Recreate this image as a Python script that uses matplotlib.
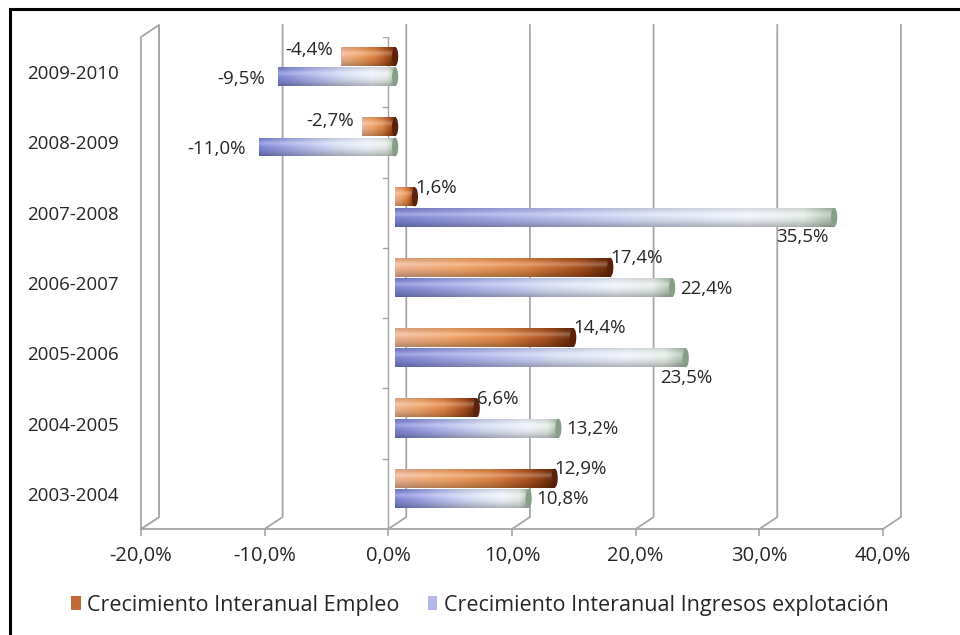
import numpy as np
import matplotlib
matplotlib.use("Agg")
import matplotlib.pyplot as plt
from matplotlib.colors import LinearSegmentedColormap
from matplotlib.patches import Rectangle, Polygon, Ellipse, Patch

# --- DATA (bottom to top) ---
categories = ["2003-2004", "2004-2005", "2005-2006", "2006-2007",
              "2007-2008", "2008-2009", "2009-2010"]
empleo = [12.9, 6.6, 14.4, 17.4, 1.6, -2.7, -4.4]
ingresos = [10.8, 13.2, 23.5, 22.4, 35.5, -11.0, -9.5]
x_ticks = [-20, -10, 0, 10, 20, 30, 40]
series_names = ["Crecimiento Interanual Empleo",
                "Crecimiento Interanual Ingresos explotación"]

# where Excel put the blue labels
ing_label_mode = ["right", "right", "below_c", "right", "below_r", "left", "left"]

# --- STYLE ---
plt.rcParams["font.family"] = ["Open Sans", "DejaVu Sans"]
TXT = "#262626"
GRID = "#a6a6a6"
DX, DY = 1.45, 0.17      # depth offset of the back wall (data units)
BX, BY = 0.55, 0.08      # depth offset of the bar plane
BAR_H = 0.27

orange_cols = [(0.0, "#f0b494"), (0.3, "#f2a468"), (0.6, "#de8442"),
               (0.85, "#aa4e1c"), (1.0, "#66280a")]
blue_cols = [(0.0, "#7c84d4"), (0.25, "#a6aee8"), (0.55, "#d4dcf5"),
             (0.8, "#eff3fc"), (0.93, "#e4ece6"), (1.0, "#a8bcaa")]


def cylinder(colors, n=256, m=48):
    cm = LinearSegmentedColormap.from_list("c", colors)
    row = cm(np.linspace(0, 1, n))[:, :3]
    v = np.linspace(0, 1, m)[:, None, None]
    shade = 0.78 + 0.22 * np.cos((v - 0.62) * np.pi * 0.9)
    glow = 0.25 * np.exp(-((v - 0.68) / 0.13) ** 2)
    img = row[None, :, :] * shade + (1 - row[None, :, :]) * glow
    return np.clip(img, 0, 1)


fig = plt.figure(figsize=(9.6, 6.35), dpi=100)
ax = fig.add_axes([141 / 960, 106 / 635, 742 / 960, 492 / 635])
ax.set_facecolor("none")

y0, y1 = -0.5, len(categories) - 0.5

# back wall gridlines + floor slants
for t in x_ticks:
    ax.plot([t, t + DX, t + DX], [y0, y0 + DY, y1 + DY],
            color=GRID, lw=1.3, clip_on=False, zorder=1)
# left side wall
xl = x_ticks[0]
ax.add_patch(Polygon([(xl, y0), (xl, y1), (xl + DX, y1 + DY), (xl + DX, y0 + DY)],
                     closed=True, facecolor="white", edgecolor=GRID, lw=1.3,
                     clip_on=False, zorder=1.5))

# value axis at zero with category ticks
ax.plot([0, 0], [y0, y1], color=GRID, lw=1.0, zorder=2)
for b in np.arange(y0, y1 + 0.01, 1.0):
    ax.plot([-0.45, 0], [b, b], color=GRID, lw=1.0, zorder=2)


def draw_bars(values, off, colors, cap):
    img = cylinder(colors)
    ends = []
    for i, v in enumerate(values):
        left = min(0, v) + BX
        right = max(0, v) + BX
        yc = i + BY + off
        rect = Rectangle((left, yc - BAR_H / 2), right - left, BAR_H,
                         facecolor="none", edgecolor="none")
        ax.add_patch(rect)
        im = ax.imshow(img, extent=(left, right, yc - BAR_H / 2, yc + BAR_H / 2),
                       origin="lower", aspect="auto", interpolation="bilinear",
                       zorder=3)
        im.set_clip_path(rect)
        ax.add_patch(Ellipse((right, yc), 0.5, BAR_H, facecolor=cap,
                             edgecolor="none", zorder=3.1))
        ends.append((left, right, yc))
    return ends


emp_ends = draw_bars(empleo, 0.145, orange_cols, "#5a2208")
ing_ends = draw_bars(ingresos, -0.145, blue_cols, "#86a088")


def fmt(v):
    return f"{v:.1f}%".replace(".", ",")


lab_kw = dict(textcoords="offset pixels", fontsize=13.5, color=TXT, zorder=5)
for v, (l, r, yc) in zip(empleo, emp_ends):
    if v >= 0:
        ax.annotate(fmt(v), (r, yc), xytext=(0, 9), ha="left", va="center", **lab_kw)
    else:
        ax.annotate(fmt(v), (l, yc), xytext=(-8, 6), ha="right", va="center", **lab_kw)

for v, (l, r, yc), mode in zip(ingresos, ing_ends, ing_label_mode):
    if mode == "right":
        ax.annotate(fmt(v), (r, yc), xytext=(8, -1), ha="left", va="center", **lab_kw)
    elif mode == "left":
        ax.annotate(fmt(v), (l, yc), xytext=(-13, -2), ha="right", va="center", **lab_kw)
    elif mode == "below_r":
        ax.annotate(fmt(v), (r, yc), xytext=(-6, -20), ha="right", va="center", **lab_kw)
    else:
        ax.annotate(fmt(v), (r, yc), xytext=(0, -20), ha="center", va="center", **lab_kw)

ax.set_xlim(x_ticks[0], x_ticks[-1])
ax.set_ylim(y0, y1)
ax.set_xticks(x_ticks)
ax.set_xticklabels([fmt(t) for t in x_ticks])
ax.set_yticks(range(len(categories)))
ax.set_yticklabels(categories)
for s in ["top", "right", "left"]:
    ax.spines[s].set_visible(False)
ax.spines["bottom"].set_color(GRID)
ax.spines["bottom"].set_linewidth(1.3)
ax.tick_params(axis="x", colors=GRID, labelcolor=TXT, length=5, width=1.2,
               labelsize=14.5, pad=7)
ax.tick_params(axis="y", length=0, labelcolor=TXT, labelsize=13.5, pad=16)

handles = [Patch(facecolor="#c06a36", edgecolor="none"),
           Patch(facecolor="#b4b8e6", edgecolor="none")]
fig.legend(handles, series_names, loc="center", bbox_to_anchor=(0.5, 1 - 605 / 635),
           ncol=2, frameon=False, fontsize=15.5, handlelength=0.45, handleheight=0.6,
           handletextpad=0.3, columnspacing=1.3, labelcolor=TXT)

# outer chart frame (cut at right and bottom as in the screenshot)
fig.add_artist(Rectangle((10 / 960, -0.05), 1.2, 1 - 9 / 635 + 0.05,
                         transform=fig.transFigure, fill=False,
                         edgecolor="black", lw=2.2, clip_on=False))

fig.savefig("out.png", dpi=100)
